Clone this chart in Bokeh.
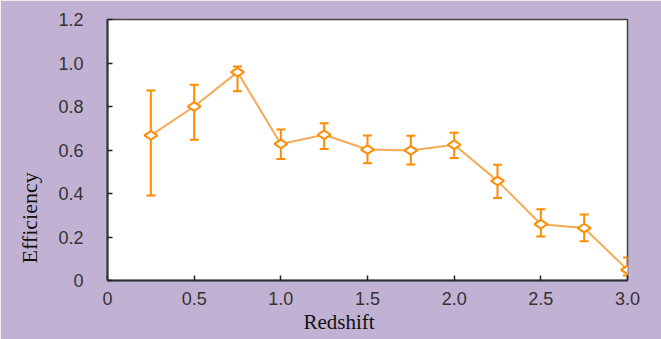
import math
from bokeh.plotting import figure
from bokeh.models import Whisker, TeeHead, ColumnDataSource, Title, FixedTicker, Range1d
from bokeh.embed import file_html
from bokeh.resources import INLINE

redshift = [0.25, 0.5, 0.75, 1.0, 1.25, 1.5, 1.75, 2.0, 2.25, 2.5, 2.75, 3.0]
efficiency = [0.667, 0.800, 0.958, 0.628, 0.670, 0.602, 0.598, 0.624, 0.458, 0.259, 0.241, 0.049]
err_upper = [0.874, 0.900, 0.984, 0.694, 0.723, 0.667, 0.665, 0.679, 0.532, 0.328, 0.303, 0.106]
err_lower = [0.391, 0.647, 0.870, 0.559, 0.605, 0.539, 0.533, 0.563, 0.379, 0.202, 0.181, 0.023]

x_ticks = [0, 0.5, 1.0, 1.5, 2.0, 2.5, 3.0]
x_tick_labels = ["0", "0.5", "1.0", "1.5", "2.0", "2.5", "3.0"]
y_ticks = [0, 0.2, 0.4, 0.6, 0.8, 1.0, 1.2]
y_tick_labels = ["0", "0.2", "0.4", "0.6", "0.8", "1.0", "1.2"]

x_title = "Redshift"
y_title = "Efficiency"

BG = "#c1b2d3"
ORANGE = "#ff8c00"

src = ColumnDataSource(dict(x=redshift, y=efficiency, upper=err_upper, lower=err_lower))

p = figure(width=661, height=339, output_backend="svg", toolbar_location=None,
           x_range=Range1d(0, 3.0), y_range=Range1d(0, 1.2),
           min_border_left=106, min_border_right=34, min_border_top=19, min_border_bottom=59)

p.border_fill_color = BG
p.background_fill_color = "white"
p.outline_line_color = "#444444"
p.outline_line_width = 1.5
p.grid.visible = False

for ax, ticks, labels in ((p.xaxis[0], x_ticks, x_tick_labels), (p.yaxis[0], y_ticks, y_tick_labels)):
    ax.ticker = FixedTicker(ticks=ticks)
    ax.major_label_overrides = {t: l for t, l in zip(ticks, labels)}
    ax.minor_tick_line_color = None
    ax.major_tick_in = 5
    ax.major_tick_out = 0
    ax.major_tick_line_color = "#222222"
    ax.major_tick_line_width = 1.5
    ax.axis_line_color = "#333333"
    ax.axis_line_width = 2
    ax.major_label_text_font = "Liberation Sans"
    ax.major_label_text_font_size = "18px"
    ax.major_label_text_color = "#333333"

p.yaxis.major_label_standoff = 24
p.xaxis.major_label_standoff = 11

p.line("x", "y", source=src, line_color="#f5aa55", line_width=2)

wh = Whisker(base="x", upper="upper", lower="lower", source=src,
             line_color=ORANGE, line_width=2,
             upper_head=TeeHead(size=9, line_color=ORANGE, line_width=2),
             lower_head=TeeHead(size=9, line_color=ORANGE, line_width=2))
p.add_layout(wh)

p.scatter("x", "y", source=src, marker="diamond", size=13, angle=math.pi / 2,
          fill_color="white", line_color=ORANGE, line_width=2)

p.add_layout(Title(text=y_title, align="left", offset=17, standoff=28,
                   text_font="Liberation Serif", text_font_size="22px",
                   text_font_style="normal", text_color="#111111"), "left")
p.add_layout(Title(text=x_title, align="left", offset=196, standoff=0,
                   text_font="Liberation Serif", text_font_size="21px",
                   text_font_style="normal", text_color="#111111"), "below")

open("out.html", "w").write(file_html(p, INLINE))
